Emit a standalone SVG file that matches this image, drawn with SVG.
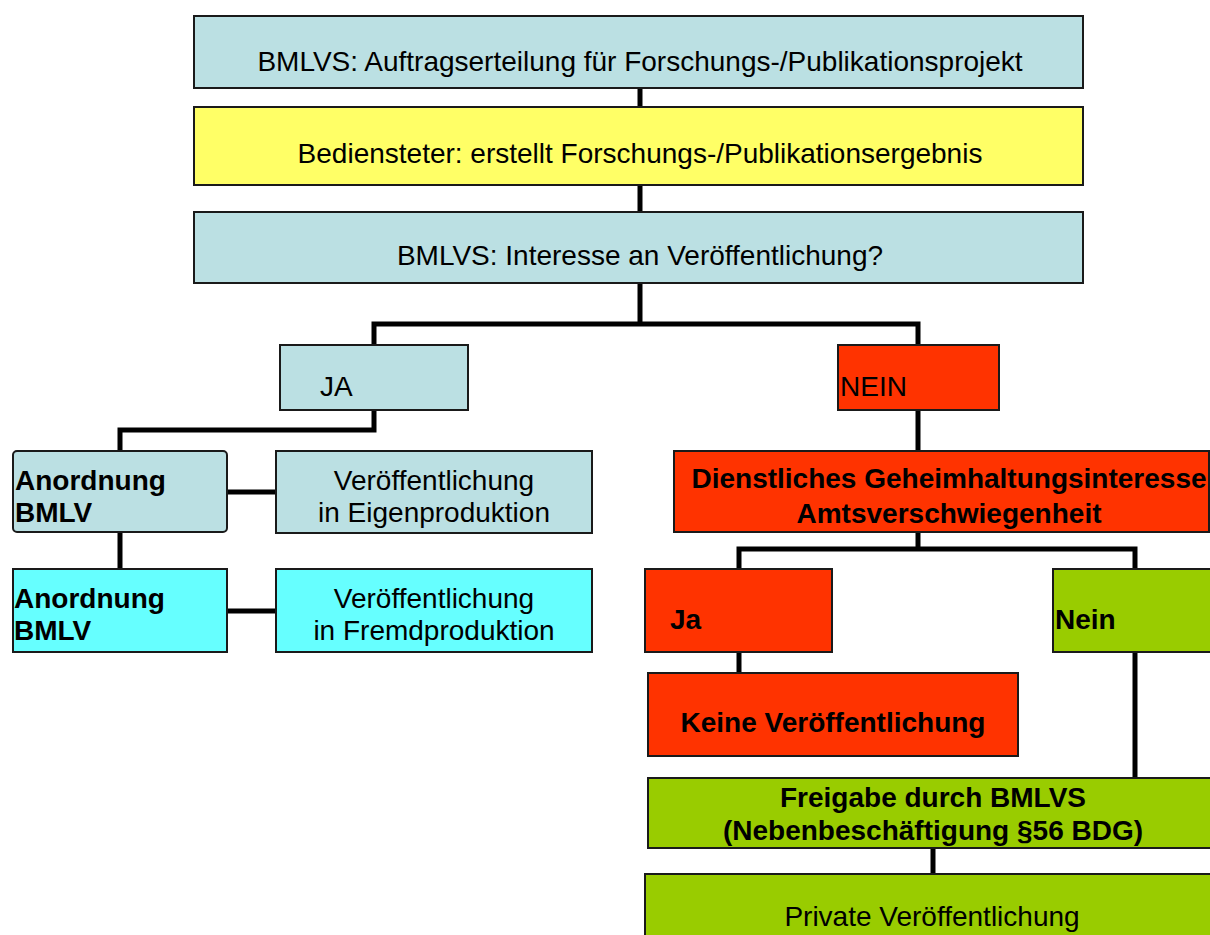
<svg xmlns="http://www.w3.org/2000/svg" width="1210" height="935" viewBox="0 0 1210 935">
<style>
.box{stroke:#1a1a1a;stroke-width:2}
.blue{fill:#BBE0E3}
.yellow{fill:#FFFF66}
.cyan{fill:#66FFFF}
.red{fill:#FF3300}
.green{fill:#99CC00}
text{font-family:"Liberation Sans",Arial,sans-serif;font-size:28px;fill:#000}
.c{text-anchor:middle}
.b{font-weight:bold}
.conn{fill:none;stroke:#000;stroke-width:5;stroke-linejoin:miter;stroke-linecap:butt}
</style>
<rect x="0" y="0" width="1210" height="935" fill="#fff"/>
<g id="connectors" class="conn">
<path d="M640,88 V107"/>
<path d="M640,185 V212"/>
<path d="M640,283 V324"/>
<path d="M374,345 V324 H918 V345"/>
<path d="M374,410 V430 H120 V451"/>
<path d="M120,532 V569"/>
<path d="M227,492 H276"/>
<path d="M227,611 H276"/>
<path d="M918,410 V451"/>
<path d="M918,532 V549"/>
<path d="M739,569 V549 H1135 V569"/>
<path d="M739,652 V673"/>
<path d="M1135,652 V778"/>
<path d="M933,848 V874"/>
</g>
<g id="n1"><rect class="box blue" x="194" y="16" width="889" height="72"/><text class="c" x="640" y="71">BMLVS: Auftragserteilung für Forschungs-/Publikationsprojekt</text></g>
<g id="n2"><rect class="box yellow" x="194" y="107" width="889" height="78"/><text class="c" x="640" y="163">Bediensteter: erstellt Forschungs-/Publikationsergebnis</text></g>
<g id="n3"><rect class="box blue" x="194" y="212" width="889" height="71"/><text class="c" x="640" y="265">BMLVS: Interesse an Veröffentlichung?</text></g>
<g id="ja"><rect class="box blue" x="280" y="345" width="188" height="65"/><text x="320" y="396">JA</text></g>
<g id="nein"><rect class="box red" x="838" y="345" width="161" height="65"/><text x="840" y="396">NEIN</text></g>
<g id="anordnung1"><rect class="box blue" x="13" y="451" width="214" height="81" rx="4"/><text class="b" x="15" y="490">Anordnung</text><text class="b" x="15" y="522">BMLV</text></g>
<g id="eigen"><rect class="box blue" x="276" y="451" width="316" height="82"/><text class="c" x="434" y="490">Veröffentlichung</text><text class="c" x="434" y="522">in Eigenproduktion</text></g>
<g id="anordnung2"><rect class="box cyan" x="13" y="569" width="214" height="83"/><text class="b" x="14" y="608">Anordnung</text><text class="b" x="14" y="640">BMLV</text></g>
<g id="fremd"><rect class="box cyan" x="276" y="569" width="316" height="83"/><text class="c" x="434" y="608">Veröffentlichung</text><text class="c" x="434" y="640">in Fremdproduktion</text></g>
<g id="dienst"><rect class="box red" x="674" y="451" width="535" height="81"/><text class="c b" x="949" y="488">Dienstliches Geheimhaltungsinteresse</text><text class="c b" x="949" y="523">Amtsverschwiegenheit</text></g>
<g id="ja2"><rect class="box red" x="645" y="569" width="187" height="83"/><text class="b" x="670" y="629">Ja</text></g>
<g id="nein2"><rect class="box green" x="1053" y="569" width="170" height="83"/><text class="b" x="1055" y="629">Nein</text></g>
<g id="keine"><rect class="box red" x="648" y="673" width="370" height="83"/><text class="c b" x="833" y="732">Keine Veröffentlichung</text></g>
<g id="freigabe"><rect class="box green" x="648" y="778" width="580" height="70"/><text class="c b" x="933" y="807">Freigabe durch BMLVS</text><text class="c b" x="933" y="840">(Nebenbeschäftigung §56 BDG)</text></g>
<g id="private"><rect class="box green" x="645" y="874" width="580" height="80"/><text class="c" x="932" y="926">Private Veröffentlichung</text></g>
</svg>
